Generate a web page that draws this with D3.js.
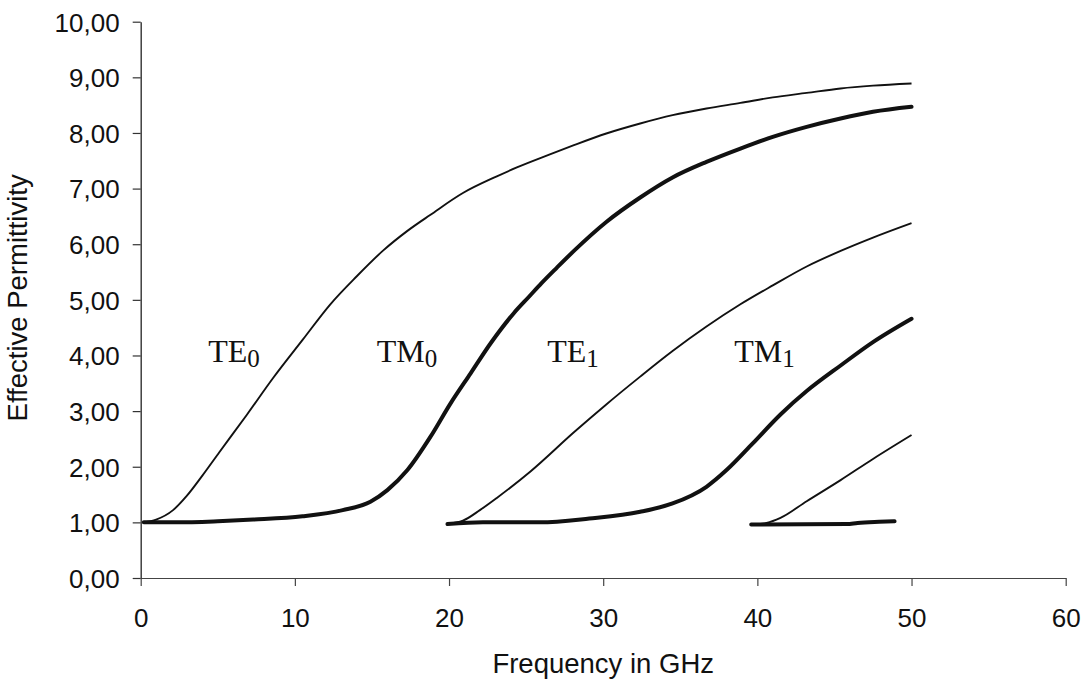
<!DOCTYPE html>
<html>
<head>
<meta charset="utf-8">
<script src="https://cdn.jsdelivr.net/npm/d3@7"></script>
<style>
  body { margin: 0; background: #fff; }
  svg { display: block; }
</style>
</head>
<body>
<svg id="chart" width="1092" height="680"></svg>
<script>
// Axis ticks
const xTicks = [0, 10, 20, 30, 40, 50, 60];
const yTicks = [0, 1, 2, 3, 4, 5, 6, 7, 8, 9, 10];

// Effective permittivity vs frequency (GHz) for each guided mode
const te0Freq = [0.2, 1.0, 2.1, 3.0, 4.0, 5.1, 6.9, 8.6, 10.5, 12.3, 14.0, 15.7, 17.3, 18.8, 20.9, 23.1, 24.4, 26.5, 28.1, 30.2, 32.4, 34.5, 36.7, 38.9, 41.0, 43.2, 45.4, 47.5, 50.0];
const te0Eps  = [1.00, 1.05, 1.22, 1.48, 1.84, 2.26, 2.94, 3.60, 4.28, 4.92, 5.42, 5.88, 6.24, 6.53, 6.92, 7.22, 7.38, 7.61, 7.78, 7.99, 8.17, 8.32, 8.44, 8.54, 8.64, 8.72, 8.80, 8.85, 8.89];

const tm0Freq = [0.2, 2.3, 5.0, 7.3, 10.5, 13.1, 14.9, 16.0, 17.3, 18.8, 20.1, 21.4, 22.7, 24.2, 25.2, 26.0, 27.0, 28.1, 30.2, 32.4, 34.5, 36.7, 38.9, 41.0, 43.2, 45.4, 47.5, 50.0];
const tm0Eps  = [1.00, 1.00, 1.02, 1.05, 1.11, 1.22, 1.37, 1.58, 1.94, 2.54, 3.14, 3.68, 4.22, 4.76, 5.06, 5.30, 5.58, 5.88, 6.40, 6.84, 7.20, 7.48, 7.72, 7.93, 8.11, 8.26, 8.38, 8.47];

const te1Freq = [19.9, 20.9, 22.0, 23.1, 25.3, 28.1, 30.2, 32.4, 34.5, 36.7, 38.9, 41.0, 43.2, 45.4, 47.5, 50.0];
const te1Eps  = [0.97, 1.03, 1.22, 1.44, 1.92, 2.62, 3.12, 3.62, 4.08, 4.52, 4.92, 5.26, 5.60, 5.88, 6.12, 6.38];

const tm1Freq = [19.9, 22.2, 25.9, 29.1, 32.4, 34.5, 36.7, 38.0, 39.7, 41.5, 43.2, 45.4, 47.5, 50.0];
const tm1Eps  = [0.97, 1.00, 1.00, 1.07, 1.19, 1.34, 1.64, 1.94, 2.42, 2.94, 3.36, 3.82, 4.24, 4.66];

const te2Freq = [39.6, 40.6, 41.5, 43.2, 45.4, 47.5, 50.0];
const te2Eps  = [0.96, 0.99, 1.08, 1.38, 1.76, 2.14, 2.57];

const tm2Freq = [39.6, 45.8, 46.5, 47.9, 48.9];
const tm2Eps  = [0.96, 0.97, 0.99, 1.01, 1.02];

// Mode name annotations (letters, subscript order, anchor in data units)
const labelNames  = ["TE", "TM", "TE", "TM"];
const labelOrders = ["0", "0", "1", "1"];
const labelFreq   = [4.38, 15.31, 26.37, 38.5];
const labelEps    = [3.89, 3.89, 3.89, 3.89];

const svg = d3.select("#chart");

const x = d3.scaleLinear().domain([0, 60]).range([140.7, 1065.7]);
const y = d3.scaleLinear().domain([0, 10]).range([578, 21.7]);

const fmt = d3.formatLocale({ decimal: ",", thousands: ".", grouping: [3], currency: ["", ""] }).format(".2f");

const sansFont = "'Liberation Sans', Arial, sans-serif";
const serifFont = "'Liberation Serif', 'Times New Roman', serif";

// x axis
const xAxis = svg.append("g")
  .attr("transform", `translate(0,${y(0)})`)
  .call(d3.axisBottom(x).tickValues(xTicks).tickSize(8).tickSizeOuter(0).tickFormat(d3.format("d")));
xAxis.select(".domain").attr("stroke", "#444").attr("stroke-width", 1.2);
xAxis.selectAll(".tick line").attr("stroke", "#444").attr("stroke-width", 1.2);
xAxis.selectAll(".tick text")
  .attr("y", 49).attr("dy", 0)
  .attr("fill", "#111")
  .style("font-family", sansFont).style("font-size", "26px");

// y axis
const yAxis = svg.append("g")
  .attr("transform", `translate(${x(0)},0)`)
  .call(d3.axisLeft(y).tickValues(yTicks).tickSize(8).tickSizeOuter(0).tickFormat(fmt));
yAxis.select(".domain").attr("stroke", "#333").attr("stroke-width", 1.4);
yAxis.selectAll(".tick line").attr("stroke", "#333").attr("stroke-width", 1.2);
yAxis.selectAll(".tick text")
  .attr("x", -21).attr("dy", "0.36em")
  .attr("fill", "#111")
  .style("font-family", sansFont).style("font-size", "26px");

// axis titles
svg.append("text")
  .attr("x", (x(0) + x(60)) / 2).attr("y", 673)
  .attr("text-anchor", "middle")
  .attr("fill", "#111")
  .style("font-family", sansFont).style("font-size", "27.5px")
  .text("Frequency in GHz");

svg.append("text")
  .attr("transform", `translate(27,${(y(0) + y(10)) / 2 - 2}) rotate(-90)`)
  .attr("text-anchor", "middle")
  .attr("fill", "#111")
  .style("font-family", sansFont).style("font-size", "27.5px")
  .text("Effective Permittivity");

// mode curves: TE modes thin, TM modes heavy
const modes = [
  { f: te0Freq, e: te0Eps, heavy: false },
  { f: tm0Freq, e: tm0Eps, heavy: true },
  { f: te1Freq, e: te1Eps, heavy: false },
  { f: tm1Freq, e: tm1Eps, heavy: true },
  { f: te2Freq, e: te2Eps, heavy: false },
  { f: tm2Freq, e: tm2Eps, heavy: true }
];

const line = d3.line()
  .x(d => x(d[0]))
  .y(d => y(d[1]))
  .curve(d3.curveMonotoneX);

svg.append("g").selectAll("path")
  .data(modes)
  .join("path")
  .attr("d", m => line(m.f.map((v, i) => [v, m.e[i]])))
  .attr("fill", "none")
  .attr("stroke", "#111")
  .attr("stroke-width", m => m.heavy ? 4 : 1.9)
  .attr("stroke-linejoin", "round")
  .attr("stroke-linecap", m => m.heavy ? "round" : "butt");

// mode names
const labels = svg.append("g").selectAll("text")
  .data(labelNames.map((n, i) => ({ n, o: labelOrders[i], f: labelFreq[i], e: labelEps[i] })))
  .join("text")
  .attr("x", d => x(d.f))
  .attr("y", d => y(d.e))
  .attr("fill", "#111")
  .style("font-family", serifFont).style("font-size", "32px");
labels.append("tspan").text(d => d.n);
labels.append("tspan").attr("dy", 5).style("font-size", "25px").text(d => d.o);
</script>
</body>
</html>
